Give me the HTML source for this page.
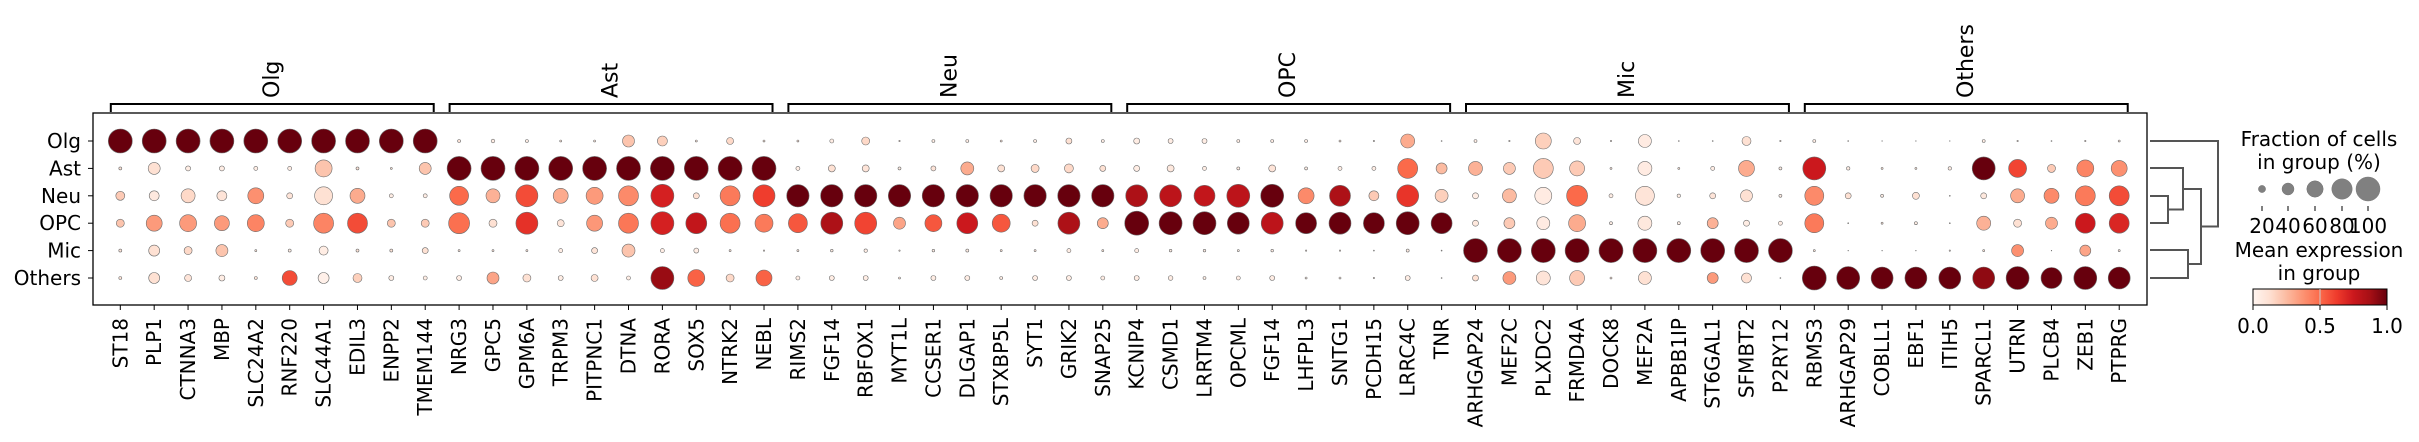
<!DOCTYPE html>
<html><head><meta charset="utf-8">
<style>
html,body{margin:0;padding:0;background:#fff;}
svg{display:block;}
text{font-family:"DejaVu Sans","Liberation Sans",sans-serif;fill:#000;}
</style></head>
<body>
<svg id="s" width="2419" height="442" viewBox="0 0 2419 442" xmlns="http://www.w3.org/2000/svg">
<defs>
<linearGradient id="reds" x1="0" x2="1" y1="0" y2="0">
<stop offset="0" stop-color="#fff5f0"/><stop offset="0.125" stop-color="#fee0d2"/>
<stop offset="0.25" stop-color="#fcbba1"/><stop offset="0.375" stop-color="#fc9272"/>
<stop offset="0.5" stop-color="#fb6a4a"/><stop offset="0.625" stop-color="#ef3b2c"/>
<stop offset="0.75" stop-color="#cb181d"/><stop offset="0.875" stop-color="#a50f15"/>
<stop offset="1" stop-color="#67000d"/>
</linearGradient>
</defs>
<rect x="93" y="113" width="2054" height="192" fill="none" stroke="#000" stroke-width="1.3"/>
<g id="g"></g>
<!-- dendrogram -->
<g fill="none" stroke="#555" stroke-width="2">
<path d="M2150 196H2168V223H2150"/>
<path d="M2150 168H2183V209.5H2168"/>
<path d="M2150 250H2188V278H2150"/>
<path d="M2183 189H2201V264H2188"/>
<path d="M2150 141H2218V226.5H2201"/>
</g>
<!-- legend -->
<text x="2319" y="146" font-size="20" text-anchor="middle">Fraction of cells</text>
<text x="2319" y="169" font-size="20" text-anchor="middle">in group (%)</text>
<g fill="#808080" stroke="#777" stroke-width="0.5">
<circle cx="2262" cy="189" r="3.6"/><circle cx="2288" cy="189" r="6"/>
<circle cx="2315" cy="189" r="8.2"/><circle cx="2342" cy="189" r="10.2"/>
<circle cx="2368" cy="189" r="12"/>
</g>
<g stroke="#000" stroke-width="1">
<path d="M2262 206V211M2288 206V211M2315 206V211M2342 206V211M2368 206V211"/>
</g>
<g font-size="20" text-anchor="middle">
<text x="2262" y="233">20</text><text x="2288" y="233">40</text><text x="2315" y="233">60</text><text x="2342" y="233">80</text><text x="2368" y="233">100</text>
</g>
<text x="2319" y="257" font-size="20" text-anchor="middle">Mean expression</text>
<text x="2319" y="280" font-size="20" text-anchor="middle">in group</text>
<rect x="2253" y="289" width="134" height="16" fill="url(#reds)" stroke="#000" stroke-width="1"/>
<line x1="2320" x2="2320" y1="289" y2="305" stroke="#ccc" stroke-width="1"/>
<path d="M2253 305V310M2320 305V310M2387 305V310" stroke="#000"/>
<g font-size="20" text-anchor="middle">
<text x="2253" y="333">0.0</text><text x="2320" y="333">0.5</text><text x="2387" y="333">1.0</text>
</g>
</svg>
<script>
(function(){
var rows=["Olg","Ast","Neu","OPC","Mic","Others"];
var ry=[141,168.4,195.8,223.2,250.6,278];
var groups=["Olg","Ast","Neu","OPC","Mic","Others"];
var genes=["ST18","PLP1","CTNNA3","MBP","SLC24A2","RNF220","SLC44A1","EDIL3","ENPP2","TMEM144",
"NRG3","GPC5","GPM6A","TRPM3","PITPNC1","DTNA","RORA","SOX5","NTRK2","NEBL",
"RIMS2","FGF14","RBFOX1","MYT1L","CCSER1","DLGAP1","STXBP5L","SYT1","GRIK2","SNAP25",
"KCNIP4","CSMD1","LRRTM4","OPCML","FGF14","LHFPL3","SNTG1","PCDH15","LRRC4C","TNR",
"ARHGAP24","MEF2C","PLXDC2","FRMD4A","DOCK8","MEF2A","APBB1IP","ST6GAL1","SFMBT2","P2RY12",
"RBMS3","ARHGAP29","COBLL1","EBF1","ITIH5","SPARCL1","UTRN","PLCB4","ZEB1","PTPRG"];
var D=[
// group Olg
["12:1 12:1 12:1 12:1 12:1 12:1 12:1 12:1 12:1 12:1",
"1.5:.1 6:.12 2.5:.05 2.5:.05 2:.05 2:.05 8.5:.22 1.5:.1 1:.1 6:.22",
"4.5:.2 5:.07 7:.15 5:.1 8:.38 3:.1 9:.12 7.5:.3 2:.05 2:.05",
"4:.22 8:.35 8.5:.35 7.5:.35 8.5:.42 4:.2 10:.42 10:.58 4:.22 4:.2",
"1.5:.1 5.5:.12 4:.15 6:.22 1:.1 1.5:.05 4.5:.05 1.5:.1 1.5:.1 3:.12",
"1.5:.1 5.5:.12 3.5:.1 3:.05 1.5:.1 7.5:.58 5.5:.03 4.5:.18 2.5:.05 2:.05"],
// Ast
["1.5:.1 1.8:.05 1.5:.05 1:.1 1:.1 6:.22 5:.18 1:.1 3.5:.15 1:.1",
"12:1 12:1 12:1 12:1 12:1 12:1 12:1 12:1 12:1 12:1",
"9.5:.5 7:.28 11:.58 7.5:.3 8.5:.35 10:.4 11.5:.72 3:.12 10:.45 11:.62",
"10.5:.48 4:.12 11:.66 3.5:.1 8:.36 10:.46 11.5:.72 10.5:.78 10:.48 9:.45",
"1:.1 1:.1 1:.1 2:.05 3:.1 6.5:.22 2:.05 2.5:.05 1:.1 .7:.1",
"2.5:.05 6:.32 4:.12 2.5:.05 3.5:.12 2:.05 11.5:.9 8.5:.52 4:.15 8:.52"],
// Neu
["1:.1 2:.05 4:.15 .7:.1 1.5:.05 1.5:.05 1:.1 1.5:.05 3:.12 1.5:.05",
"2:.05 3.5:.12 3.5:.1 1.5:.05 2.5:.1 6.5:.3 3.5:.12 4:.15 4.5:.15 3:.12",
"11.2:1 11.2:1 11.2:1 11.2:1 11.2:1 11.2:1 11.2:1 11.2:1 11.2:1 11.2:1",
"9.5:.55 11:.85 11:.6 6:.32 8.5:.55 10.5:.75 9:.55 3:.12 11:.85 5.5:.3",
"1:.1 1.3:.05 1.7:.05 .7:.1 1.3:.05 1.5:.05 1:.1 1:.1 2:.05 1:.1",
"2:.05 2.5:.05 2.5:.05 1:.1 2.5:.05 2.5:.05 1.5:.05 2.5:.05 2.5:.05 2:.05"],
// OPC
["3:.05 2.5:.05 2.5:.05 1.5:.05 1.5:.05 1.5:.05 1:.1 .7:.1 7:.3 .5:.1",
"3:.05 3.5:.08 2:.05 1.5:.05 3.5:.1 1.5:.05 2:.05 2:.05 10:.5 5.5:.25",
"11:.85 11:.8 10.5:.78 11.5:.8 11.5:1 8:.4 10.5:.85 5:.2 11:.65 6.5:.18",
"12:1 11.5:1 11.5:1 11:1 11:.8 10.5:1 11:1 10.5:1 11.5:1 10.5:1",
"2:.05 1.3:.05 1.3:.05 1:.05 1.3:.05 .7:.1 .7:.1 .5:.1 1.5:.05 .5:.1",
"2.5:.05 2.3:.05 1.5:.05 2:.05 2.5:.05 1:.05 1:.05 .7:.1 2.5:.05 .5:.1"],
// Mic
["1.5:.05 .7:.1 8:.18 3.5:.1 .7:.1 6.5:.06 .5:.1 .5:.1 4.5:.12 .7:.1",
"7:.28 6:.2 10:.2 7.5:.2 1:.1 7:.06 1:.1 2:.05 8:.3 1.5:.05",
"3:.05 7:.25 8.5:.06 10.5:.5 2:.05 9.5:.1 1.7:.05 3:.1 6:.12 1.5:.05",
"3:.08 5.5:.2 6.5:.06 8.5:.3 1.5:.05 7:.08 1.5:.05 5.5:.28 3:.05 2:.05",
"12:1 12:1 12:1 12:1 12:1 12:1 12:1 12:1 12:1 12:1",
"3:.12 6.5:.35 7:.1 7.5:.2 1:.1 6.5:.12 0:0 5.5:.35 5:.12 .5:.1"],
// Others
["1.5:.05 .5:.1 .3:.1 .3:.1 .3:.1 1.5:.05 .7:.1 .5:.1 .7:.1 1:.1",
"11.5:.75 1.7:.05 1:.1 1:.1 1.7:.05 11.5:1 9:.6 4:.2 8.5:.42 8:.38",
"9.5:.4 3:.12 1.5:.05 3.5:.12 .5:.1 3:.08 7:.3 7.5:.4 10:.45 10:.58",
"9.5:.45 .5:.1 1:.1 1.5:.05 .5:.1 7:.28 4:.12 6:.3 10:.75 10:.7",
"1:.1 .3:.1 .3:.1 .3:.1 .7:.1 1:.1 6:.38 .3:.1 5.5:.32 1:.1",
"12:1 11.5:1 11:1 11:1 11:1 11:.92 11.5:1 10.5:1 11.5:1 11:1"]
];
var stops=[[255,245,240],[254,224,210],[252,187,161],[252,146,114],[251,106,74],[239,59,44],[203,24,29],[165,15,21],[103,0,13]];
function col(v){v=Math.max(0,Math.min(1,v));var p=v*8,i=Math.min(7,Math.floor(p)),t=p-i;var a=stops[i],b=stops[i+1];
return "rgb("+[0,1,2].map(function(k){return Math.round(a[k]+(b[k]-a[k])*t)}).join(",")+")";}
function cx(j){return 120.3+j*33.88;}
var h="";
// y labels and ticks
for(var r=0;r<6;r++){h+='<line x1="88" x2="93" y1="'+ry[r]+'" y2="'+ry[r]+'" stroke="#000"/>';
h+='<text x="81" y="'+ry[r]+'" font-size="20" text-anchor="end" dominant-baseline="central">'+rows[r]+'</text>';}
// x labels
for(var j=0;j<60;j++){var x=cx(j);
h+='<line x1="'+x+'" x2="'+x+'" y1="305" y2="310" stroke="#000"/>';
h+='<text transform="translate('+x+',318) rotate(-90)" font-size="20" text-anchor="end" dominant-baseline="central">'+genes[j]+'</text>';}
// brackets
for(var g=0;g<6;g++){var x0=cx(g*10)-9.5,x1=cx(g*10+9)+8.5;
h+='<path d="M'+x0+' 112V104H'+x1+'V112" fill="none" stroke="#000" stroke-width="2"/>';
h+='<text transform="translate('+((x0+x1)/2)+',98) rotate(-90)" font-size="22" dominant-baseline="central">'+groups[g]+'</text>';}
// dots
for(var g=0;g<6;g++)for(var r=0;r<6;r++){var cells=D[g][r].split(" ");
for(var k=0;k<10;k++){var p=cells[k].split(":"),rad=parseFloat(p[0]),v=parseFloat(p[1]);if(rad<=0)continue;
h+='<circle cx="'+cx(g*10+k).toFixed(1)+'" cy="'+ry[r]+'" r="'+rad+'" fill="'+col(v)+'" stroke="#6e6e6e" stroke-width="0.6"/>';}}
document.getElementById("g").innerHTML=h;
})();
</script>
</body></html>
